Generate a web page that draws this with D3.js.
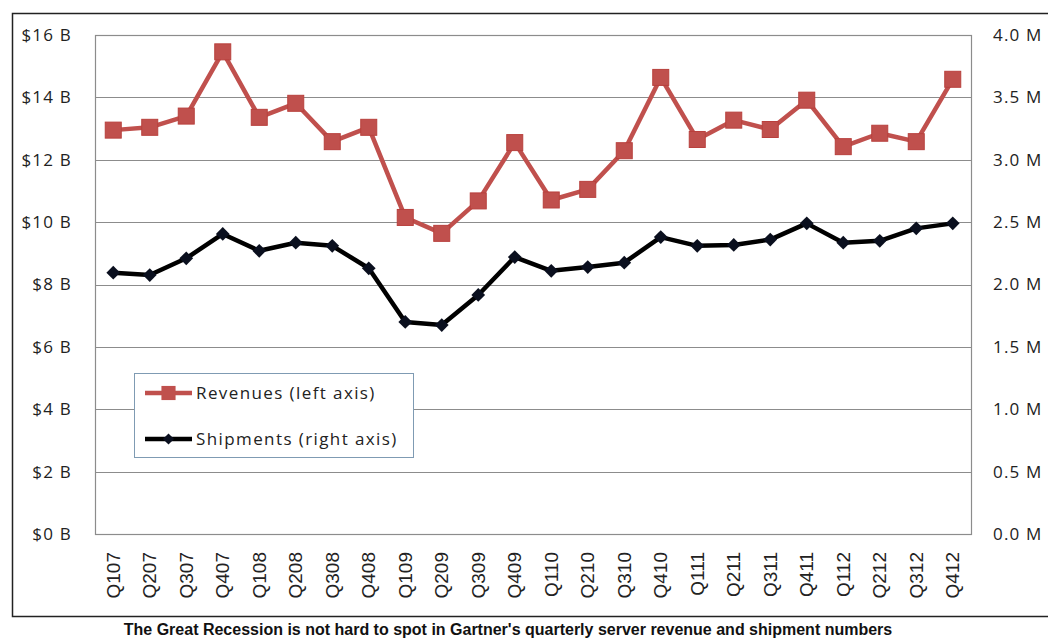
<!DOCTYPE html>
<html>
<head>
<meta charset="utf-8">
<script src="https://cdn.jsdelivr.net/npm/d3@7"></script>
<style>
  body { margin: 0; background: #fff; }
  svg { display: block; }
</style>
</head>
<body>
<svg width="1048" height="642"></svg>
<script>
var quarters = ["Q107","Q207","Q307","Q407","Q108","Q208","Q308","Q408","Q109","Q209","Q309","Q409",
                "Q110","Q210","Q310","Q410","Q111","Q211","Q311","Q411","Q112","Q212","Q312","Q412"];
// revenue in $ billions (left axis)
var revenues = [12.95,13.04,13.4,15.46,13.36,13.81,12.58,13.04,10.15,9.64,10.68,12.55,
                10.71,11.05,12.29,14.64,12.65,13.27,12.97,13.91,12.42,12.85,12.58,14.58];
// shipments in millions (right axis)
var shipments = [2.095,2.076,2.21,2.405,2.27,2.335,2.31,2.13,1.70,1.675,1.916,2.22,
                 2.11,2.14,2.175,2.38,2.31,2.317,2.36,2.49,2.335,2.35,2.45,2.49];
var leftTicks = [0,2,4,6,8,10,12,14,16];
var rightTicks = [0,0.5,1.0,1.5,2.0,2.5,3.0,3.5,4.0];
var caption = "The Great Recession is not hard to spot in Gartner's quarterly server revenue and shipment numbers";

var svg = d3.select("svg"),
    margin = {top: 35, right: 77, bottom: 108, left: 95},
    width = 1048 - margin.left - margin.right,
    height = 642 - margin.top - margin.bottom;

// outer frame
svg.append("rect")
    .attr("x", 12.5).attr("y", 13.5)
    .attr("width", 1048).attr("height", 603)
    .style("fill", "none").style("stroke", "#222").style("stroke-width", "1.5px");

var g = svg.append("g").attr("transform", "translate(" + margin.left + "," + margin.top + ")");

var x = d3.scaleBand().domain(quarters).range([0, width]);
var yL = d3.scaleLinear().domain([0, 16]).range([height, 0]);
var yR = d3.scaleLinear().domain([0, 4]).range([height, 0]);

// gridlines
g.selectAll("line.grid")
    .data(leftTicks)
    .enter().append("line")
    .attr("class", "grid")
    .attr("x1", 0).attr("x2", width)
    .attr("y1", function (d) { return Math.round(yL(d)) + 0.5; })
    .attr("y2", function (d) { return Math.round(yL(d)) + 0.5; })
    .style("stroke", "#8c8c8c").style("stroke-width", "1.2px");

// plot frame
g.append("rect")
    .attr("x", 0.5).attr("y", 0.5)
    .attr("width", width).attr("height", height)
    .style("fill", "none").style("stroke", "#8c8c8c").style("stroke-width", "1.2px");

// left axis labels
var axL = d3.axisLeft(yL).tickValues(leftTicks).tickSize(0).tickPadding(23)
    .tickFormat(function (d) { return "$" + d + " B"; });
g.append("g").call(axL)
    .call(function (s) { s.select(".domain").remove(); })
    .selectAll("text")
    .style("font-family", "'Open Sans', 'Noto Sans', sans-serif")
    .style("font-size", "17px").style("letter-spacing", "1.2px").style("fill", "#222");

// right axis labels
var axR = d3.axisRight(yR).tickValues(rightTicks).tickSize(0).tickPadding(22)
    .tickFormat(function (d) { return d3.format(".1f")(d) + " M"; });
g.append("g").attr("transform", "translate(" + width + ",0)").call(axR)
    .call(function (s) { s.select(".domain").remove(); })
    .selectAll("text")
    .style("font-family", "'Open Sans', 'Noto Sans', sans-serif")
    .style("font-size", "17px").style("letter-spacing", "1.2px").style("fill", "#222");

// category labels, rotated
var axB = d3.axisBottom(x).tickSize(0).tickPadding(0);
g.append("g").attr("transform", "translate(0," + height + ")").call(axB)
    .call(function (s) { s.select(".domain").remove(); })
    .selectAll("text")
    .attr("transform", "rotate(-90)")
    .attr("x", -18).attr("y", 0).attr("dy", "0.35em")
    .style("text-anchor", "end")
    .style("font-family", "'Liberation Sans', Arial, sans-serif")
    .style("font-size", "19px").style("fill", "#222");

var cx = function (d, i) { return x(quarters[i]) + x.bandwidth() / 2; };

// revenue line
var revLine = d3.line().x(cx).y(function (d) { return yL(d); });
g.append("path").datum(revenues)
    .attr("d", revLine)
    .style("fill", "none").style("stroke", "#c0504d").style("stroke-width", "4.5px")
    .style("stroke-linejoin", "round");
g.selectAll("rect.rev").data(revenues).enter().append("rect")
    .attr("class", "rev")
    .attr("x", function (d, i) { return cx(d, i) - 8; })
    .attr("y", function (d) { return yL(d) - 8; })
    .attr("width", 16).attr("height", 16)
    .style("fill", "#c0504d").style("stroke", "#b8403d").style("stroke-width", "1px");

// shipments line
var shipLine = d3.line().x(cx).y(function (d) { return yR(d); });
g.append("path").datum(shipments)
    .attr("d", shipLine)
    .style("fill", "none").style("stroke", "#000").style("stroke-width", "4.5px")
    .style("stroke-linejoin", "round");
g.selectAll("path.ship").data(shipments).enter().append("path")
    .attr("class", "ship")
    .attr("d", d3.symbol(d3.symbolDiamond2, 120))
    .attr("transform", function (d, i) { return "translate(" + cx(d, i) + "," + yR(d) + ")"; })
    .style("fill", "#0a0f1e");

// legend
var leg = svg.append("g").attr("transform", "translate(134,373)");
leg.append("rect")
    .attr("x", 0.5).attr("y", 0.5).attr("width", 279).attr("height", 84)
    .style("fill", "#fff").style("stroke", "#7f9bb3").style("stroke-width", "1px");
var items = [
    {name: "Revenues (left axis)", color: "#c0504d", mark: "square"},
    {name: "Shipments (right axis)", color: "#000", mark: "diamond"}
];
var li = leg.selectAll("g.item").data(items).enter().append("g")
    .attr("class", "item")
    .attr("transform", function (d, i) { return "translate(0," + (20 + i * 46) + ")"; });
li.append("line")
    .attr("x1", 11).attr("x2", 58).attr("y1", 0).attr("y2", 0)
    .style("stroke", function (d) { return d.color; }).style("stroke-width", "4.5px");
li.append("path")
    .attr("transform", "translate(34.5,0)")
    .attr("d", function (d) {
        return d.mark === "square" ? d3.symbol(d3.symbolSquare, 200)() : d3.symbol(d3.symbolDiamond2, 80)();
    })
    .style("fill", function (d) { return d.mark === "square" ? "#c0504d" : "#0a0f1e"; });
li.append("text")
    .attr("x", 62).attr("y", 0).attr("dy", "0.35em")
    .style("font-family", "'Open Sans', 'Noto Sans', sans-serif")
    .style("font-size", "17px").style("letter-spacing", "1.4px").style("fill", "#222")
    .text(function (d) { return d.name; });

// caption
svg.append("text")
    .attr("x", 508).attr("y", 635)
    .attr("text-anchor", "middle")
    .style("font-family", "'Liberation Sans', Arial, sans-serif")
    .style("font-weight", "bold").style("font-size", "16px").style("fill", "#111")
    .text(caption);
</script>
</body>
</html>
